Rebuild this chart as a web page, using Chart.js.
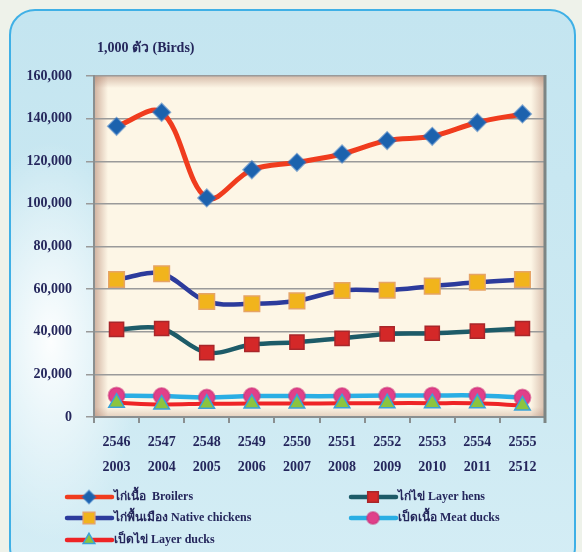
<!DOCTYPE html>
<html>
<head>
<meta charset="utf-8">
<script src="https://cdn.jsdelivr.net/npm/chart.js@4.4.1/dist/chart.umd.min.js"></script>
<style>
  html, body { margin: 0; padding: 0; }
  body { width: 582px; height: 552px; overflow: hidden; background: #eef2ea; position: relative; }
  #panel {
    position: absolute; left: 9px; top: 9px; width: 563px; height: 560px;
    border: 2px solid #3fb0e6; border-radius: 26px;
    background:
      radial-gradient(ellipse 90px 200px at 40px 330px, rgba(255,255,255,0.95), rgba(255,255,255,0)),
      linear-gradient(180deg, #c4e5f0 0%, #cce9f2 60%, #d4edf5 100%);
  }
  #wrap { position: absolute; left: 0; top: 0; width: 582px; height: 552px; }
</style>
</head>
<body>
<div id="panel"></div>
<div id="wrap"><canvas id="lineChart"></canvas></div>
<script>
// ---- data ----
const yearsBE = ['2546', '2547', '2548', '2549', '2550', '2551', '2552', '2553', '2554', '2555'];
const yearsAD = ['2003', '2004', '2005', '2006', '2007', '2008', '2009', '2010', '2011', '2512'];

const broilers   = [136400, 143000, 102800, 116000, 119500, 123400, 129700, 131700, 138200, 142200];
const layerHens  = [41100, 41500, 30200, 34000, 35100, 36900, 39000, 39300, 40300, 41500];
const nativeChk  = [64500, 67200, 54200, 53100, 54500, 59400, 59500, 61400, 63200, 64500];
const meatDucks  = [10100, 9800, 9100, 9800, 9800, 9800, 10100, 10100, 10100, 9100];
const layerDucks = [6700, 5900, 6200, 6300, 6300, 6400, 6500, 6500, 6400, 5400];

const yTicks = [0, 20000, 40000, 60000, 80000, 100000, 120000, 140000, 160000];

const navy = '#25275c';
const serif = "'Liberation Serif', 'DejaVu Serif', serif";

// cream plot area with soft inner shading + right frame
const plotArea = {
  id: 'plotArea',
  beforeDraw(chart) {
    const { ctx, chartArea: a } = chart;
    ctx.save();
    ctx.fillStyle = '#fdf6e6';
    ctx.fillRect(a.left, a.top, a.right - a.left, a.bottom - a.top);
    let g = ctx.createLinearGradient(a.left, 0, a.left + 14, 0);
    g.addColorStop(0, 'rgba(170,120,100,0.55)');
    g.addColorStop(1, 'rgba(170,120,100,0)');
    ctx.fillStyle = g;
    ctx.fillRect(a.left, a.top, 14, a.bottom - a.top);
    g = ctx.createLinearGradient(0, a.top, 0, a.top + 12);
    g.addColorStop(0, 'rgba(170,120,100,0.45)');
    g.addColorStop(1, 'rgba(170,120,100,0)');
    ctx.fillStyle = g;
    ctx.fillRect(a.left, a.top, a.right - a.left, 12);
    g = ctx.createLinearGradient(a.right, 0, a.right - 14, 0);
    g.addColorStop(0, 'rgba(170,120,100,0.45)');
    g.addColorStop(1, 'rgba(170,120,100,0)');
    ctx.fillStyle = g;
    ctx.fillRect(a.right - 14, a.top, 14, a.bottom - a.top);
    g = ctx.createLinearGradient(0, a.bottom, 0, a.bottom - 10);
    g.addColorStop(0, 'rgba(170,120,100,0.3)');
    g.addColorStop(1, 'rgba(170,120,100,0)');
    ctx.fillStyle = g;
    ctx.fillRect(a.left, a.bottom - 10, a.right - a.left, 10);
    ctx.restore();
  },
  beforeDatasetsDraw(chart) {
    const { ctx, chartArea: a } = chart;
    ctx.save();
    ctx.strokeStyle = '#7d8584';
    ctx.lineWidth = 3;
    ctx.beginPath();
    ctx.moveTo(a.right, a.top - 1);
    ctx.lineTo(a.right, a.bottom + 6);
    ctx.stroke();
    ctx.restore();
  }
};

// unit caption above the y axis
const unitTitle = {
  id: 'unitTitle',
  afterDraw(chart) {
    const { ctx } = chart;
    ctx.save();
    ctx.fillStyle = navy;
    ctx.font = 'bold 14px ' + serif;
    ctx.textBaseline = 'middle';
    ctx.fillText('1,000 ตัว (Birds)', 97, 48);
    ctx.restore();
  }
};

// two-column legend under the axis
const gridLegend = {
  id: 'gridLegend',
  afterDraw(chart) {
    const { ctx } = chart;
    const cols = [67, 351];
    const rows = [497, 518, 540];
    chart.data.datasets.forEach((ds, i) => {
      const x = cols[i % 2];
      const y = rows[Math.floor(i / 2)];
      ctx.save();
      ctx.strokeStyle = ds.borderColor;
      ctx.lineWidth = 4.5;
      ctx.lineCap = 'round';
      ctx.beginPath();
      ctx.moveTo(x, y);
      ctx.lineTo(x + 45, y);
      ctx.stroke();
      ctx.fillStyle = ds.pointBackgroundColor;
      ctx.strokeStyle = ds.pointBorderColor;
      ctx.lineWidth = ds.pointBorderWidth;
      Chart.helpers.drawPoint(ctx, {
        pointStyle: ds.pointStyle,
        radius: ds.pointRadius * 0.75,
        rotation: 0,
        borderWidth: ds.pointBorderWidth
      }, x + 22, y);
      ctx.fillStyle = navy;
      ctx.font = 'bold 12px ' + serif;
      ctx.textBaseline = 'middle';
      ctx.fillText(ds.label, x + 47, y);
      ctx.restore();
    });
  }
};

const common = { fill: false, tension: 0.35, borderWidth: 4.5, pointHoverRadius: 8 };

const dataline = {
  labels: yearsBE.map((y, i) => [y, yearsAD[i]]),
  datasets: [
    Object.assign({}, common, {
      label: 'ไก่เนื้อ  Broilers', data: broilers, order: 4, borderWidth: 5,
      borderColor: '#f03c1e', pointStyle: 'rectRot', pointRadius: 8.5,
      pointBackgroundColor: '#1c62ad', pointBorderColor: 'rgba(40,110,190,0.55)', pointBorderWidth: 2
    }),
    Object.assign({}, common, {
      label: 'ไก่ไข่ Layer hens', data: layerHens, order: 3,
      borderColor: '#1d5b68', pointStyle: 'rect', pointRadius: 10,
      pointBackgroundColor: '#d42828', pointBorderColor: '#a8262a', pointBorderWidth: 1.5
    }),
    Object.assign({}, common, {
      label: 'ไก่พื้นเมือง Native chickens', data: nativeChk, order: 5,
      borderColor: '#2c3b9c', pointStyle: 'rect', pointRadius: 11,
      pointBackgroundColor: '#f1b41c', pointBorderColor: '#e6a466', pointBorderWidth: 1.5
    }),
    Object.assign({}, common, {
      label: 'เป็ดเนื้อ Meat ducks', data: meatDucks, order: 2,
      borderColor: '#2aaee4', pointStyle: 'circle', pointRadius: 8,
      pointBackgroundColor: '#e0408a', pointBorderColor: 'rgba(205,50,120,0.55)', pointBorderWidth: 2
    }),
    Object.assign({}, common, {
      label: 'เป็ดไข่ Layer ducks', data: layerDucks, order: 1, borderWidth: 4,
      borderColor: '#ee2426', pointStyle: 'triangle', pointRadius: 9,
      pointBackgroundColor: '#8cc43f', pointBorderColor: '#3aa2d8', pointBorderWidth: 1.5
    })
  ]
};

const configline = {
  type: 'line',
  data: dataline,
  plugins: [plotArea, unitTitle, gridLegend],
  options: {
    responsive: false,
    animation: false,
    layout: { padding: { left: 0, right: 37, top: 76, bottom: 75 } },
    plugins: { legend: { display: false }, tooltip: { enabled: false } },
    scales: {
      x: {
        offset: true,
        grid: { offset: true, drawOnChartArea: false, tickLength: 6, color: '#8a8f90', lineWidth: 2 },
        border: { display: true, color: '#8a8f90', width: 2 },
        ticks: { color: navy, font: { family: serif, size: 14, weight: 'bold', lineHeight: 1.85 }, padding: 6, maxRotation: 0, autoSkip: false },
        afterFit(scale) { scale.height = 60; }
      },
      y: {
        min: 0, max: 160000,
        afterBuildTicks(scale) { scale.ticks = yTicks.map(v => ({ value: v })); },
        grid: { color: '#9a9a9a', lineWidth: 1.5, tickLength: 8 },
        border: { display: true, color: '#8a8f90', width: 2 },
        ticks: {
          color: navy, padding: 14,
          font: { family: serif, size: 14, weight: 'bold' },
          callback: v => v.toLocaleString('en-US')
        },
        afterFit(scale) { scale.width = 94; }
      }
    }
  }
};

const canvas = document.getElementById('lineChart');
canvas.width = 582;
canvas.height = 552;
const lineChart = new Chart(canvas, configline);
</script>
</body>
</html>
